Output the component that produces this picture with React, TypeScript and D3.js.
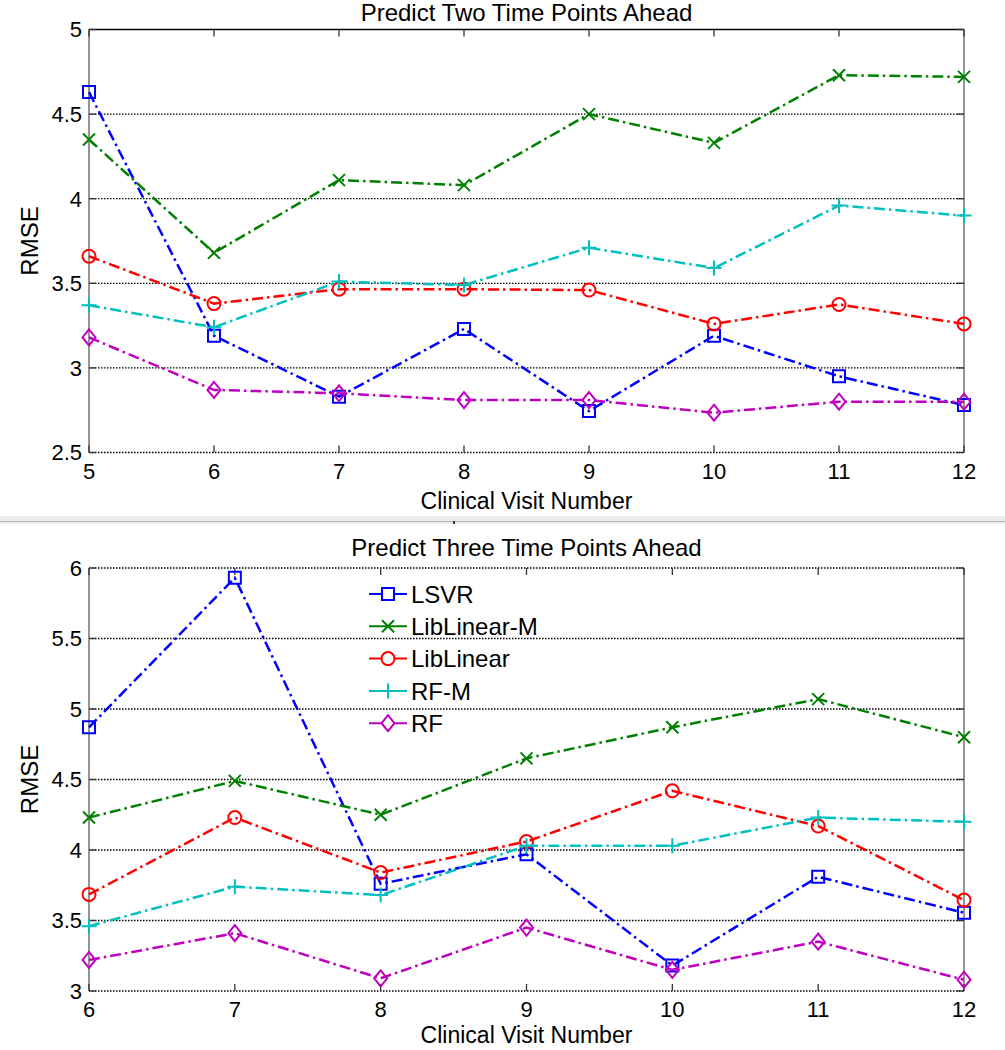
import React from 'react';
import * as d3 from 'd3';

// x categories
const visitsTwo = [5, 6, 7, 8, 9, 10, 11, 12];
const visitsThree = [6, 7, 8, 9, 10, 11, 12];

const methods = ['LSVR', 'LibLinear-M', 'LibLinear', 'RF-M', 'RF'];
const colors = ['#0000ff', '#008000', '#ff0000', '#00bfbf', '#bf00bf'];
const markers = ['square', 'x', 'circle', 'plus', 'diamond'];

// predict two time points ahead
const lsvrTwo = [4.63, 3.19, 2.83, 3.23, 2.745, 3.19, 2.95, 2.78];
const libLinearMTwo = [4.35, 3.68, 4.11, 4.08, 4.5, 4.33, 4.73, 4.72];
const libLinearTwo = [3.66, 3.38, 3.465, 3.465, 3.46, 3.26, 3.375, 3.26];
const rfMTwo = [3.37, 3.24, 3.51, 3.49, 3.71, 3.59, 3.96, 3.9];
const rfTwo = [3.18, 2.87, 2.85, 2.81, 2.81, 2.735, 2.8, 2.8];

// predict three time points ahead
const lsvrThree = [4.87, 5.93, 3.76, 3.97, 3.18, 3.81, 3.555];
const libLinearMThree = [4.23, 4.49, 4.25, 4.65, 4.87, 5.07, 4.8];
const libLinearThree = [3.685, 4.23, 3.84, 4.06, 4.42, 4.17, 3.645];
const rfMThree = [3.46, 3.74, 3.68, 4.03, 4.03, 4.23, 4.2];
const rfThree = [3.22, 3.41, 3.09, 3.45, 3.15, 3.35, 3.08];

const yTicksTwo = [2.5, 3, 3.5, 4, 4.5, 5];
const yTicksThree = [3, 3.5, 4, 4.5, 5, 5.5, 6];

const FONT = '"Liberation Sans", Arial, sans-serif';
const DASH = '11,4,2.5,4';

function markerPath(kind: string) {
  switch (kind) {
    case 'square':
      return 'M-6,-6H6V6H-6Z';
    case 'circle':
      return 'M6.5,0A6.5,6.5 0 1,1 -6.5,0A6.5,6.5 0 1,1 6.5,0Z';
    case 'diamond':
      return 'M0,-8L6.5,0L0,8L-6.5,0Z';
    case 'x':
      return 'M-6,-6L6,6M-6,6L6,-6';
    case 'plus':
      return 'M-7.5,0H7.5M0,-7.5V7.5';
  }
  return '';
}

function Panel(props: any) {
  const { title, titleY, visits, series, yTicks, top, bottom, solidTop, legend, labelY } = props;
  const left = 89;
  const right = 964;
  const x = d3.scaleLinear().domain([visits[0], visits[visits.length - 1]]).range([left, right]);
  const y = d3.scaleLinear().domain([yTicks[0], yTicks[yTicks.length - 1]]).range([bottom, top]);
  const line = d3.line<number>().x((_, i) => x(visits[i])).y((d) => y(d));
  const tick = 7;
  return (
    <g>
      <text x={(left + right) / 2} y={titleY} textAnchor="middle" fontSize={24} fontFamily={FONT}>
        {title}
      </text>
      {/* grid */}
      {yTicks.map((t: number, i: number) => (
        <line
          key={'g' + t}
          x1={left}
          x2={right}
          y1={y(t)}
          y2={y(t)}
          stroke="#000"
          strokeWidth={1.3}
          strokeDasharray={solidTop && i === yTicks.length - 1 ? undefined : '1.5,1.5'}
        />
      ))}
      {/* side axes */}
      <line x1={left} x2={left} y1={top} y2={bottom} stroke="#7a7a7a" strokeWidth={1.6} />
      <line x1={right} x2={right} y1={top} y2={bottom} stroke="#7a7a7a" strokeWidth={1.6} />
      {/* ticks */}
      {visits.map((v: number) => (
        <g key={'xt' + v}>
          <line x1={x(v)} x2={x(v)} y1={top} y2={top + tick} stroke="#333" strokeWidth={1.3} />
          <line x1={x(v)} x2={x(v)} y1={bottom} y2={bottom - tick} stroke="#333" strokeWidth={1.3} />
          <text x={x(v)} y={bottom + 26} textAnchor="middle" fontSize={22} fontFamily={FONT}>
            {v}
          </text>
        </g>
      ))}
      {yTicks.map((t: number) => (
        <g key={'yt' + t}>
          <line x1={left} x2={left + tick} y1={y(t)} y2={y(t)} stroke="#333" strokeWidth={1.3} />
          <line x1={right} x2={right - tick} y1={y(t)} y2={y(t)} stroke="#333" strokeWidth={1.3} />
          <text x={82} y={y(t)} dy="0.36em" textAnchor="end" fontSize={22} fontFamily={FONT}>
            {String(t)}
          </text>
        </g>
      ))}
      <text x={(left + right) / 2} y={labelY} textAnchor="middle" fontSize={23} fontFamily={FONT}>
        Clinical Visit Number
      </text>
      <text
        transform={`translate(38,${(top + bottom) / 2}) rotate(-90)`}
        textAnchor="middle"
        fontSize={24}
        fontFamily={FONT}
      >
        RMSE
      </text>
      {/* series */}
      {series.map((s: number[], k: number) => (
        <g key={'s' + k}>
          <path d={line(s) || ''} fill="none" stroke={colors[k]} strokeWidth={2.5} strokeDasharray={DASH} />
          {s.map((v, i) => (
            <path
              key={i}
              d={markerPath(markers[k])}
              transform={`translate(${x(visits[i])},${y(v)})`}
              fill="none"
              stroke={colors[k]}
              strokeWidth={2}
            />
          ))}
        </g>
      ))}
      {legend &&
        methods.map((m, k) => {
          const ly = 594 + k * 32.3;
          return (
            <g key={'l' + m}>
              <line x1={369} x2={407} y1={ly} y2={ly} stroke={colors[k]} strokeWidth={2} />
              <path
                d={markerPath(markers[k])}
                transform={`translate(388,${ly})`}
                fill="#fff"
                stroke={colors[k]}
                strokeWidth={2}
              />
              <text x={411} y={ly} dy="0.36em" fontSize={24} fontFamily={FONT}>
                {m}
              </text>
            </g>
          );
        })}
    </g>
  );
}

export default function App() {
  return (
    <svg
      width={1005}
      height={1050}
      style={{ position: 'absolute', left: 0, top: 0, background: '#fff' }}
    >
      <rect x={0} y={0} width={1005} height={1050} fill="#fff" />
      <Panel
        title="Predict Two Time Points Ahead"
        titleY={21}
        visits={visitsTwo}
        series={[lsvrTwo, libLinearMTwo, libLinearTwo, rfMTwo, rfTwo]}
        yTicks={yTicksTwo}
        top={29.5}
        bottom={452.5}
        labelY={509}
        solidTop={true}
      />
      <rect x={0} y={516} width={1005} height={8} fill="#ececec" />
      <line x1={0} x2={1005} y1={521.5} y2={521.5} stroke="#b4b4b4" strokeWidth={1} />
      <rect x={453} y={521} width={2} height={3} fill="#333" />
      <Panel
        title="Predict Three Time Points Ahead"
        titleY={556}
        visits={visitsThree}
        series={[lsvrThree, libLinearMThree, libLinearThree, rfMThree, rfThree]}
        yTicks={yTicksThree}
        top={568}
        bottom={991}
        labelY={1043}
        solidTop={false}
        legend={true}
      />
    </svg>
  );
}
